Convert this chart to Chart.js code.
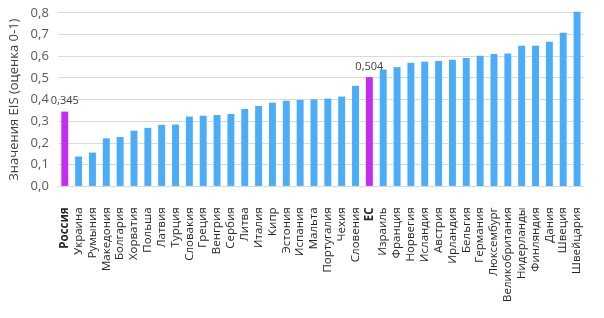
<!DOCTYPE html>
<html>
<head>
<meta charset="utf-8">
<script src="https://cdn.jsdelivr.net/npm/chart.js@4"></script>
<style>
  html, body { margin: 0; padding: 0; background: #fff; }
  #wrap { width: 604px; height: 318px; }
</style>
</head>
<body>
<div id="wrap"><canvas id="grafico"></canvas></div>
<script>
// Страны (по возрастанию индекса)
const paises = ['Россия', 'Украина', 'Румыния', 'Македония', 'Болгария', 'Хорватия', 'Польша',
    'Латвия', 'Турция', 'Словакия', 'Греция', 'Венгрия', 'Сербия', 'Литва', 'Италия', 'Кипр',
    'Эстония', 'Испания', 'Мальта', 'Португалия', 'Чехия', 'Словения', 'ЕС', 'Израиль', 'Франция',
    'Норвегия', 'Исландия', 'Австрия', 'Ирландия', 'Бельгия', 'Германия', 'Люксембург',
    'Великобритания', 'Нидерланды', 'Финляндия', 'Дания', 'Швеция', 'Швейцария'];

// Значения EIS
const valores = [0.345, 0.138, 0.156, 0.222, 0.228, 0.257, 0.270, 0.284, 0.285, 0.322, 0.326,
    0.329, 0.334, 0.357, 0.371, 0.386, 0.395, 0.399, 0.401, 0.405, 0.414, 0.464, 0.504, 0.539,
    0.550, 0.570, 0.575, 0.578, 0.584, 0.592, 0.602, 0.610, 0.613, 0.648, 0.648, 0.667, 0.709, 0.805];

// Подписи значений только для выделенных столбцов
const destaques = ['Россия', 'ЕС'];
const yTicks = [0, 0.1, 0.2, 0.3, 0.4, 0.5, 0.6, 0.7, 0.8];

const corAzul = '#4badf7';
const corRoxo = '#c42cf6';

const cores = paises.map(p => destaques.includes(p) ? corRoxo : corAzul);

// plugin simples pra escrever o valor em cima das barras destacadas
const rotulos = {
    id: 'rotulos',
    afterDatasetsDraw(chart) {
        const ctx = chart.ctx;
        const meta = chart.getDatasetMeta(0);
        ctx.save();
        ctx.font = '11px "Open Sans"';
        ctx.fillStyle = '#404040';
        ctx.textAlign = 'center';
        ctx.textBaseline = 'bottom';
        meta.data.forEach((bar, i) => {
            if (destaques.includes(paises[i])) {
                ctx.fillText(valores[i].toFixed(3).replace('.', ','), bar.x, bar.y - 5);
            }
        });
        ctx.restore();
    }
};

new Chart(document.getElementById('grafico'), {
    type: 'bar',
    data: {
        labels: paises,
        datasets: [{
            data: valores,
            backgroundColor: cores,
            barPercentage: 0.5,
            categoryPercentage: 1,
            clip: false
        }]
    },
    options: {
        responsive: true,
        maintainAspectRatio: false,
        animation: false,
        layout: { padding: { top: 0, right: 11, left: 6, bottom: 3 } },
        plugins: {
            legend: { display: false },
            tooltip: { enabled: false }
        },
        scales: {
            x: {
                grid: { display: false },
                border: { color: '#d9d9d9' },
                ticks: {
                    autoSkip: false,
                    minRotation: 90,
                    maxRotation: 90,
                    padding: 13,
                    color: '#262626',
                    font: ctx => ({
                        family: '"Open Sans"',
                        size: 11.5,
                        weight: destaques.includes(paises[ctx.index]) ? 'bold' : 'normal'
                    })
                }
            },
            y: {
                min: 0,
                max: 0.8,
                afterBuildTicks: axis => { axis.ticks = yTicks.map(v => ({ value: v })); },
                grid: { color: '#d9d9d9', drawTicks: false },
                border: { display: false },
                ticks: {
                    padding: 9,
                    color: '#595959',
                    font: { family: '"Open Sans"', size: 13, lineHeight: 0.6 },
                    callback: v => v.toFixed(1).replace('.', ',')
                },
                title: {
                    display: true,
                    text: 'Значения EIS (оценка 0-1)',
                    color: '#404040',
                    font: { family: '"Open Sans"', size: 13 },
                    padding: 0
                }
            }
        }
    },
    plugins: [rotulos]
});
</script>
</body>
</html>
